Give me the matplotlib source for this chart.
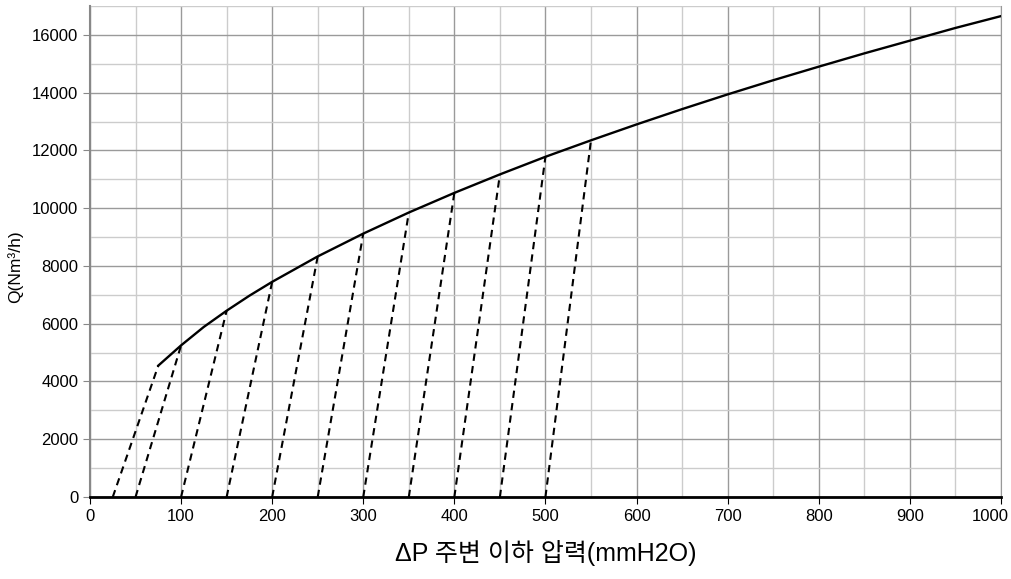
import numpy as np
import matplotlib
matplotlib.use('Agg')
import matplotlib.pyplot as plt
import matplotlib.transforms as mtransforms
from matplotlib.ticker import MultipleLocator

plt.rcParams['font.family'] = ['Liberation Sans', 'Noto Sans CJK KR', 'DejaVu Sans']

# --- data ---
dp_curve = [75, 100, 125, 150, 175, 200, 250, 300, 350, 400, 450, 500, 550, 600,
            650, 700, 750, 800, 850, 900, 950, 1000]
q_curve = [4550, 5250, 5890, 6450, 6970, 7450, 8330, 9120, 9850, 10530, 11170,
           11780, 12350, 12900, 13430, 13940, 14430, 14900, 15360, 15800, 16240, 16650]

# dashed guide lines: start on the x axis, end on the curve
dash_start = [25, 50, 100, 150, 200, 250, 300, 350, 400, 450, 500]
dash_end = [75, 100, 150, 200, 250, 300, 350, 400, 450, 500, 550]
dash_top = [4550, 5250, 6450, 7450, 8330, 9120, 9850, 10530, 11170, 11780, 12350]

x_ticks = [0, 100, 200, 300, 400, 500, 600, 700, 800, 900, 1000]
y_ticks = [0, 2000, 4000, 6000, 8000, 10000, 12000, 14000, 16000]

fig = plt.figure(figsize=(10.11, 5.79), dpi=100)
ax = fig.add_axes([0.089, 0.1416, 0.901, 0.848])

# grid
ax.xaxis.set_minor_locator(MultipleLocator(50))
ax.yaxis.set_minor_locator(MultipleLocator(1000))
ax.grid(True, which='major', color='#9a9a9a', lw=1.0, zorder=0)
ax.grid(True, which='minor', color='#cccccc', lw=1.0, zorder=0)
ax.set_axisbelow(True)

# curve
ax.plot(dp_curve, q_curve, color='black', lw=1.7, zorder=3)

# dashed lines
for x0, x1, q in zip(dash_start, dash_end, dash_top):
    ax.plot([x0, x1], [0, q], color='black', lw=1.5, ls=(0, (3.5, 2.5)), zorder=3)

ax.set_xlim(0, 1000)
ax.set_ylim(0, 17000)
ax.set_xticks(x_ticks)
ax.set_yticks(y_ticks)
ax.tick_params(axis='both', which='major', labelsize=12, length=5)
ax.tick_params(axis='y', colors='#888888', labelcolor='black')
ax.tick_params(axis='x', colors='black', labelcolor='black')
ax.tick_params(which='minor', length=0)

# last x label sits a bit left so it stays inside the figure
last = ax.get_xticklabels()[-1]
last.set_transform(last.get_transform() +
                   mtransforms.ScaledTranslation(-11 / 100, 0, fig.dpi_scale_trans))

ax.spines['top'].set_visible(False)
ax.spines['right'].set_color('#999999')
ax.spines['left'].set_color('#888888')
ax.spines['left'].set_linewidth(1.5)
ax.spines['bottom'].set_color('black')
ax.spines['bottom'].set_linewidth(2)
ax.spines['bottom'].set_zorder(4)

ax.set_xlabel('ΔP 주변 이하 압력(mmH2O)', fontsize=18, labelpad=12)
ax.set_ylabel('Q(Nm³/h)', fontsize=12.5)
ax.yaxis.set_label_coords(-0.0735, 0.47)

fig.savefig('out.png', dpi=100)
